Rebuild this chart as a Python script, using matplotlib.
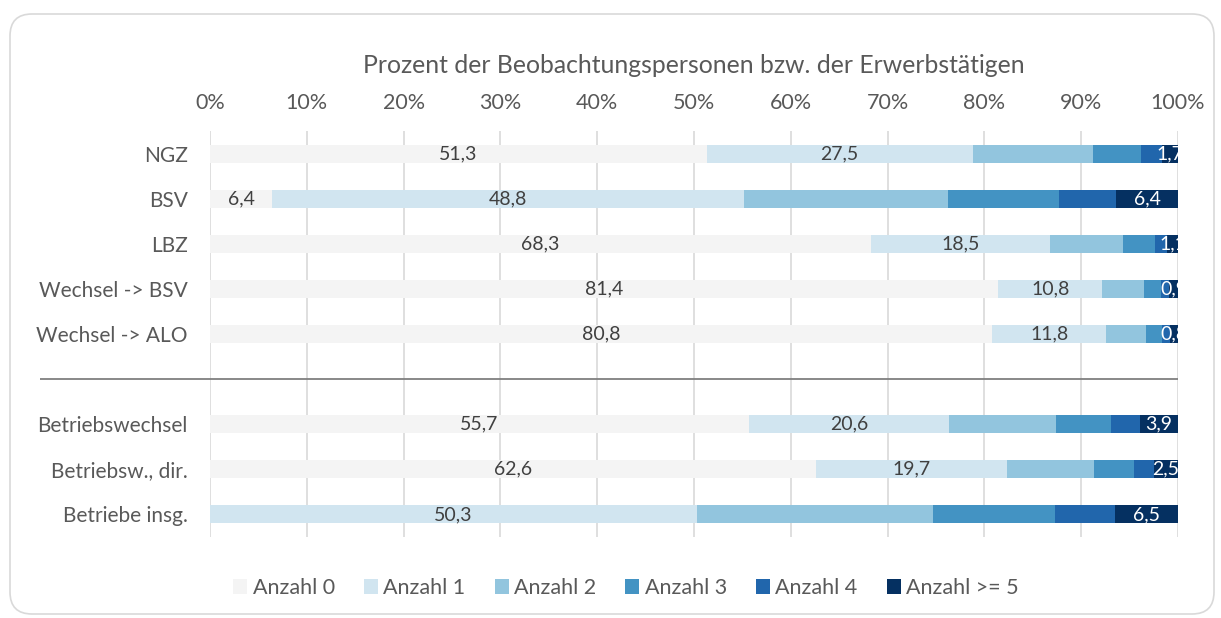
import matplotlib.pyplot as plt
import numpy as np
from matplotlib.patches import FancyBboxPatch

plt.rcParams['font.family'] = ['Lato', 'DejaVu Sans']

# data (percent)
categories = ["NGZ", "BSV", "LBZ", "Wechsel -> BSV", "Wechsel -> ALO",
              "Betriebswechsel", "Betriebsw., dir.", "Betriebe insg."]
anzahl0 = [51.3, 6.4, 68.3, 81.4, 80.8, 55.7, 62.6, 0.0]
anzahl1 = [27.5, 48.8, 18.5, 10.8, 11.8, 20.6, 19.7, 50.3]
anzahl2 = [12.4, 21.0, 7.5, 4.3, 4.1, 11.1, 9.0, 24.4]
anzahl3 = [5.0, 11.5, 3.3, 1.7, 1.6, 5.7, 4.2, 12.6]
anzahl4 = [2.1, 5.9, 1.3, 0.9, 0.9, 3.0, 2.0, 6.2]
anzahl5 = [1.7, 6.4, 1.1, 0.9, 0.8, 3.9, 2.5, 6.5]
series_names = ["Anzahl 0", "Anzahl 1", "Anzahl 2", "Anzahl 3", "Anzahl 4", "Anzahl >= 5"]
xticks = np.arange(0, 101, 10)

colors = ["#f4f4f4", "#d1e5f0", "#92c5de", "#4393c3", "#2166ac", "#053061"]
labelled = [0, 1, 5]  # which series get value labels

# row positions, with an empty slot (5) for the separator line
ypos = np.array([0, 1, 2, 3, 4, 6, 7, 8])
sep_y = 5

W, H = 1221, 618
fig = plt.figure(figsize=(W / 100, H / 100), dpi=100)

# rounded frame around the chart
frame = FancyBboxPatch((10 / W, 4 / H), 1204 / W, 600 / H,
                       boxstyle="round,pad=0,rounding_size=0.018",
                       transform=fig.transFigure, facecolor="none",
                       edgecolor="#d9d9d9", linewidth=1.2, zorder=-1,
                       mutation_aspect=W / H)
fig.patches.append(frame)

ax = fig.add_axes([210 / W, 1 - 537 / H, 968 / W, 406 / H])
ax.set_facecolor("none")

data = [anzahl0, anzahl1, anzahl2, anzahl3, anzahl4, anzahl5]
left = np.zeros(len(categories))
for i, vals in enumerate(data):
    vals = np.array(vals)
    ax.barh(ypos, vals, left=left, height=0.4, color=colors[i],
            label=series_names[i], zorder=2)
    if i in labelled:
        for y, l, v in zip(ypos, left, vals):
            if v <= 0:
                continue
            tc = "white" if i == 5 else "#404040"
            ax.text(l + v / 2, y, f"{v:.1f}".replace(".", ","), ha="center",
                    va="center", fontsize=14, color=tc, zorder=3, clip_on=True)
    left += vals

ax.set_xlim(0, 100)
ax.set_ylim(8.5, -0.5)
ax.set_yticks(ypos)
ax.set_yticklabels(categories)
ax.set_xticks(xticks)
ax.set_xticklabels([f"{t}%" for t in xticks])
ax.xaxis.tick_top()
ax.xaxis.set_label_position("top")
ax.set_xlabel("Prozent der Beobachtungspersonen bzw. der Erwerbstätigen",
              fontsize=17.8, color="#595959", labelpad=14)
ax.tick_params(axis="x", length=0, labelsize=15.5, colors="#595959", pad=13)
ax.tick_params(axis="y", length=0, labelsize=15, colors="#595959", pad=16)
ax.grid(axis="x", color="#d9d9d9", linewidth=1.2, zorder=0)
for s in ax.spines.values():
    s.set_visible(False)

# separator between the two groups
ax.hlines(sep_y, -17.6, 100, color="#7f7f7f", linewidth=1.3, clip_on=False)

fig.legend(loc="center", bbox_to_anchor=(626 / W, 1 - 588 / H), ncol=6,
           frameon=False, fontsize=15.5, handlelength=0.65, handleheight=0.65,
           handletextpad=0.25, columnspacing=1.35, labelcolor="#595959")

fig.savefig("out.png", dpi=100)
